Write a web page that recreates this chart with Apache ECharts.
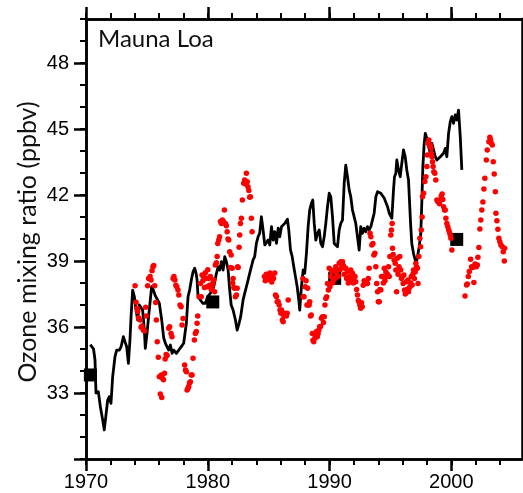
<!DOCTYPE html>
<html>
<head>
<meta charset="utf-8">
<script src="https://cdn.jsdelivr.net/npm/echarts@6.0.0/dist/echarts.min.js"></script>
<style>
  html, body { margin: 0; padding: 0; background: #ffffff; }
  #chart { width: 523px; height: 493px; }
</style>
</head>
<body>
<div id="chart"></div>
<script>
// Smoothed surface ozone record (black line)
const lineYears = [
  1970.35, 1970.62, 1970.74, 1970.82, 1971.01, 1971.18, 1971.37, 1971.50, 1971.64, 1971.78,
  1971.91, 1972.05, 1972.19, 1972.38, 1972.52, 1972.74, 1972.88, 1973.07, 1973.20, 1973.34,
  1973.48, 1973.61, 1973.70, 1973.83, 1973.97, 1974.11, 1974.24, 1974.38, 1974.52, 1974.65,
  1974.79, 1974.87, 1975.01, 1975.14, 1975.28, 1975.39, 1975.53, 1975.67, 1975.83, 1976.02,
  1976.22, 1976.38, 1976.52, 1976.66, 1976.79, 1976.93, 1977.07, 1977.20, 1977.42, 1977.61,
  1977.81, 1978.02, 1978.16, 1978.24, 1978.38, 1978.51, 1978.65, 1978.79, 1978.92, 1979.04,
  1979.12, 1979.20, 1979.39, 1979.58, 1979.80, 1979.99, 1980.21, 1980.49, 1980.71, 1980.85,
  1980.98, 1981.12, 1981.26, 1981.39, 1981.53, 1981.67, 1981.80, 1981.92, 1982.08, 1982.27,
  1982.41, 1982.57, 1982.70, 1982.90, 1983.03, 1983.17, 1983.31, 1983.44, 1983.58, 1983.72,
  1983.85, 1983.99, 1984.13, 1984.26, 1984.40, 1984.54, 1984.68, 1984.82, 1984.95, 1985.09,
  1985.23, 1985.37, 1985.50, 1985.64, 1985.78, 1985.91, 1986.05, 1986.19, 1986.32, 1986.46,
  1986.54, 1986.65, 1986.79, 1986.93, 1987.06, 1987.20, 1987.34, 1987.47, 1987.55, 1987.69,
  1987.83, 1987.96, 1988.10, 1988.24, 1988.37, 1988.51, 1988.62, 1988.74, 1988.87, 1989.01,
  1989.15, 1989.28, 1989.42, 1989.56, 1989.69, 1989.83, 1989.97, 1990.10, 1990.24, 1990.38,
  1990.51, 1990.65, 1990.79, 1990.92, 1991.06, 1991.20, 1991.33, 1991.47, 1991.61, 1991.74,
  1991.88, 1992.02, 1992.15, 1992.29, 1992.43, 1992.56, 1992.70, 1992.84, 1992.97, 1993.11,
  1993.25, 1993.39, 1993.52, 1993.66, 1993.80, 1993.94, 1994.08, 1994.21, 1994.35, 1994.49,
  1994.62, 1994.76, 1994.90, 1995.00, 1995.11, 1995.25, 1995.33, 1995.44, 1995.52, 1995.66,
  1995.80, 1995.93, 1996.07, 1996.21, 1996.34, 1996.48, 1996.56, 1996.65, 1996.75, 1996.89,
  1997.03, 1997.11, 1997.22, 1997.36, 1997.49, 1997.58, 1997.66, 1997.77, 1997.86, 1997.99,
  1998.13, 1998.27, 1998.40, 1998.54, 1998.68, 1998.81, 1998.95, 1999.09, 1999.22, 1999.36,
  1999.50, 1999.63, 1999.77, 1999.91, 2000.04, 2000.18, 2000.32, 2000.45, 2000.59, 2000.73,
  2000.86
];
const lineOzone = [
  35.2, 35.0, 34.5, 33.0, 33.06, 32.38, 31.77, 31.32, 31.4, 32.68,
  32.83, 32.53, 33.74, 34.65, 34.95, 34.95, 35.1, 35.56, 35.33, 35.1,
  34.35, 35.41, 36.47, 37.68, 37.38, 36.77, 36.32, 37.0, 37.08, 36.77,
  35.86, 35.03, 35.71, 36.47, 37.23, 37.83, 37.68, 37.45, 37.38, 37.08,
  36.3, 35.5, 35.26, 35.1, 34.95, 35.18, 34.8, 34.95, 34.8, 34.95,
  35.1, 35.26, 35.18, 36.17, 37.38, 37.68, 38.14, 38.51, 38.67, 38.44,
  38.14, 37.38, 37.23, 37.08, 37.08, 37.38, 37.53, 37.83, 38.44, 38.74,
  38.59, 38.97, 38.59, 39.2, 38.97, 38.59, 37.68, 37.0, 36.77, 36.32,
  35.86, 36.17, 36.47, 37.23, 37.53, 37.83, 38.14, 38.44, 38.74, 39.05,
  39.2, 39.8, 40.1, 40.26, 41.01, 40.41, 39.73, 39.8, 39.95, 39.73,
  40.56, 39.95, 40.33, 39.8, 40.49, 40.1, 40.56, 40.64, 40.71, 40.79,
  40.9, 40.41, 39.5, 39.2, 38.74, 38.29, 37.83, 37.23, 36.77, 37.83,
  38.59, 38.44, 39.35, 40.56, 41.32, 41.62, 41.77, 40.71, 39.95, 40.26,
  40.41, 39.8, 39.65, 40.1, 40.71, 41.47, 42.08, 41.92, 41.01, 39.8,
  39.73, 39.65, 40.41, 40.71, 40.86, 42.53, 43.36, 42.83, 42.23, 41.92,
  41.32, 41.24, 40.71, 40.1, 39.5, 40.56, 40.26, 40.49, 40.33, 40.56,
  40.41, 40.56, 40.86, 41.17, 41.92, 42.15, 42.15, 42.08, 42.0, 41.85,
  41.77, 41.47, 41.17, 41.1, 40.94, 42.23, 42.83, 42.98, 43.59, 43.14,
  42.83, 43.44, 44.05, 43.74, 43.14, 42.68, 41.77, 40.71, 39.8, 39.35,
  39.05, 38.9, 39.2, 39.65, 40.26, 41.77, 43.29, 44.35, 44.8, 44.58,
  44.2, 43.9, 44.35, 44.05, 43.74, 43.59, 43.67, 43.74, 43.82, 43.9,
  44.12, 43.74, 44.8, 45.33, 45.56, 45.26, 45.64, 45.41, 45.86, 44.65,
  43.14
];

// Monthly ozone values (red dots)
const dotYears = [
  1974.03, 1974.11, 1974.19, 1974.24, 1974.32, 1974.44, 1974.52, 1974.60, 1974.70, 1974.79,
  1974.90, 1974.95, 1975.06, 1975.14, 1975.26, 1975.34, 1975.42, 1975.50, 1975.56, 1975.64,
  1975.72, 1975.78, 1975.85, 1975.94, 1976.02, 1976.10, 1976.18, 1976.22, 1976.28, 1976.36,
  1976.45, 1976.50, 1976.58, 1976.66, 1976.79, 1976.87, 1976.98, 1977.06, 1977.15, 1977.22,
  1977.30, 1977.38, 1977.45, 1977.55, 1977.62, 1977.72, 1977.81, 1977.89, 1977.97, 1978.10,
  1978.17, 1978.24, 1978.30, 1978.37, 1978.43, 1978.50, 1978.57, 1978.63, 1978.71, 1978.79,
  1978.90, 1978.98, 1979.06, 1979.12, 1979.17, 1979.29, 1979.39, 1979.46, 1979.53, 1979.60,
  1979.66, 1979.73, 1979.80, 1979.87, 1979.94, 1980.00, 1980.07, 1980.14, 1980.21, 1980.28,
  1980.35, 1980.42, 1980.49, 1980.56, 1980.62, 1980.71, 1980.77, 1980.82, 1980.90, 1980.97,
  1981.04, 1981.12, 1981.20, 1981.28, 1981.36, 1981.45, 1981.52, 1981.59, 1981.66, 1981.72,
  1981.80, 1981.86, 1981.92, 1982.00, 1982.04, 1982.08, 1982.14, 1982.19, 1982.27, 1982.35,
  1982.41, 1982.46, 1982.49, 1982.57, 1982.62, 1982.68, 1982.76, 1982.84, 1982.95, 1983.03,
  1983.10, 1983.17, 1983.24, 1983.30, 1983.37, 1983.44, 1983.50, 1983.58, 1983.64,
  1984.65, 1984.72, 1984.80, 1984.88, 1984.95, 1985.02, 1985.10, 1985.18, 1985.25, 1985.32,
  1985.40, 1985.50, 1985.56, 1985.64, 1985.70, 1985.78, 1985.86, 1985.93, 1986.00, 1986.05,
  1986.12, 1986.19, 1986.25, 1986.32, 1986.38, 1986.45, 1986.52, 1986.60,
  1987.81, 1987.83, 1987.90, 1988.00, 1988.07, 1988.14, 1988.20, 1988.27, 1988.32, 1988.37,
  1988.44, 1988.49, 1988.58, 1988.64, 1988.70, 1988.74, 1988.80, 1988.85, 1988.92, 1988.99,
  1989.06, 1989.12, 1989.19, 1989.26, 1989.33, 1989.42, 1989.50, 1989.56, 1989.62, 1989.69,
  1989.76, 1989.83, 1989.90, 1989.97, 1990.03, 1990.10, 1990.17, 1990.24, 1990.30, 1990.36,
  1990.44, 1990.51, 1990.58, 1990.65, 1990.72, 1990.79, 1990.86, 1990.92, 1991.00, 1991.06,
  1991.13, 1991.20, 1991.27, 1991.33, 1991.40, 1991.47, 1991.54, 1991.61, 1991.67, 1991.74,
  1991.81, 1991.88, 1991.95, 1992.02, 1992.09, 1992.15, 1992.22, 1992.29, 1992.36, 1992.42,
  1992.48, 1992.55, 1992.62, 1992.68, 1992.76, 1992.84, 1992.90, 1992.96, 1993.04, 1993.11,
  1993.18, 1993.25, 1993.32, 1993.39, 1993.47, 1993.56, 1993.64, 1993.72, 1993.80, 1993.87,
  1993.94, 1994.00, 1994.08, 1994.14, 1994.21, 1994.27, 1994.35, 1994.42, 1994.49, 1994.55,
  1994.62, 1994.68, 1994.76, 1994.84, 1994.90, 1994.95, 1995.03, 1995.08, 1995.14, 1995.17,
  1995.22, 1995.30, 1995.39, 1995.44, 1995.50, 1995.56, 1995.62, 1995.70, 1995.76, 1995.84,
  1995.90, 1995.97, 1996.04, 1996.10, 1996.16, 1996.22, 1996.30, 1996.37, 1996.44, 1996.48,
  1996.52, 1996.60, 1996.66, 1996.71, 1996.78, 1996.84, 1996.89, 1996.96, 1997.03, 1997.08,
  1997.14, 1997.21, 1997.26, 1997.33, 1997.41, 1997.48, 1997.53, 1997.60, 1997.63, 1997.72,
  1997.82, 1997.91, 1997.99, 1998.03, 1998.09, 1998.15, 1998.22, 1998.27, 1998.32, 1998.36,
  1998.40, 1998.45, 1998.50, 1998.56, 1998.64, 1998.72, 1998.81, 1998.88, 1998.95, 1999.02,
  1999.09, 1999.17, 1999.24, 1999.30, 1999.36, 1999.44, 1999.50, 1999.55, 1999.63, 1999.71,
  1999.78, 1999.85, 1999.91, 1999.96, 2000.04,
  2001.12, 2001.25, 2001.31, 2001.39, 2001.47, 2001.58, 2001.66, 2001.75, 2001.83, 2001.85,
  2001.94, 2002.05, 2002.13, 2002.18, 2002.26, 2002.34, 2002.42, 2002.50, 2002.59, 2002.67,
  2002.75, 2002.87, 2002.95, 2003.08, 2003.16, 2003.22, 2003.28, 2003.36, 2003.44, 2003.52,
  2003.61, 2003.66, 2003.74, 2003.82, 2003.90, 2003.98, 2004.07, 2004.18, 2004.26, 2004.35,
  2004.37
];
const dotOzone = [
  37.88, 37.12, 36.85, 36.70, 36.42, 36.32, 35.99, 36.05, 35.86, 35.82,
  36.90, 36.50, 37.88, 38.21, 38.29, 38.14, 38.56, 38.74, 38.80, 37.88,
  37.11, 36.32, 35.33, 34.62, 33.74, 32.95, 33.82, 32.80, 33.67, 33.60,
  33.90, 34.55, 34.75, 34.70, 35.94, 36.01, 35.71, 35.56, 38.21, 38.29,
  38.14, 37.90, 37.83, 37.68, 37.45, 37.00, 36.92, 36.09, 36.39, 34.27,
  34.05, 33.97, 33.14, 33.21, 33.29, 33.45, 33.51, 33.82, 33.82, 34.58,
  35.41, 35.71, 35.79, 36.17, 36.50, 37.38, 37.98, 37.38, 38.36, 38.10,
  38.29, 37.80, 38.47, 38.20, 37.83, 38.60, 38.21, 37.90, 38.29, 37.70,
  37.83, 38.00, 38.14, 37.60, 38.82, 38.92, 39.20, 39.80, 39.95, 40.10,
  40.79, 40.70, 40.86, 40.80, 41.32, 40.71, 40.60, 40.33, 40.00, 39.95,
  39.42, 38.70, 39.27, 38.67, 38.00, 38.21, 37.80, 37.76, 37.38, 37.45,
  37.76, 38.74, 38.71, 39.62, 40.18, 40.71, 40.94, 41.77, 42.53, 42.68,
  42.50, 42.99, 42.60, 42.38, 42.20, 41.90, 41.92, 40.94, 40.33,
  38.30, 38.10, 38.40, 38.20, 38.35, 38.15, 38.45, 38.25, 38.05, 38.30,
  38.20, 38.45, 37.45, 37.38, 37.15, 37.15, 37.00, 36.77, 36.62, 36.77,
  36.32, 36.24, 36.50, 36.62, 36.55, 36.50, 36.62, 37.23,
  38.21, 37.38, 37.38, 37.83, 38.10, 37.00, 37.76, 37.00, 37.00, 37.15,
  36.50, 36.55, 35.71, 35.40, 35.33, 35.71, 35.50, 35.64, 35.79, 35.56,
  35.70, 35.86, 36.01, 36.02, 36.40, 36.47, 36.20, 36.47, 37.00, 37.30,
  37.38, 37.98, 37.68, 38.67, 37.83, 38.29, 38.52, 38.00, 38.10, 38.59,
  38.20, 38.74, 38.40, 38.59, 38.30, 38.90, 38.60, 38.97, 38.70, 38.97,
  38.80, 38.40, 38.67, 38.67, 38.20, 38.52, 38.00, 38.29, 38.06, 38.59,
  38.20, 38.44, 38.00, 38.06, 38.30, 38.06, 37.70, 37.45, 37.20, 37.15,
  37.00, 36.85, 37.10, 36.92, 37.90, 38.10, 38.02, 37.98, 38.00, 37.98,
  38.20, 38.67, 40.26, 40.10, 39.73, 39.80, 39.27, 39.35, 38.74, 37.98,
  37.60, 37.15, 37.15, 37.70, 37.68, 38.29, 38.29, 38.00, 38.67, 38.10,
  38.50, 38.29, 38.40, 38.74, 38.29, 39.20, 40.18, 40.41, 40.71, 39.58,
  39.30, 39.05, 38.90, 38.59, 37.60, 39.12, 38.40, 38.74, 39.20, 38.59,
  38.20, 38.29, 37.98, 38.36, 37.68, 37.50, 38.06, 37.70, 38.14, 37.60,
  37.76, 37.83, 38.00, 38.29, 37.91, 38.40, 38.59, 38.20, 38.50, 38.90,
  38.74, 38.67, 37.98, 39.20, 40.03, 39.65, 40.41, 41.00, 41.92, 42.08,
  42.61, 42.83, 43.29, 43.82, 44.35, 44.50, 44.20, 44.27, 44.12, 43.90,
  43.74, 43.51, 43.29, 43.06, 42.99, 42.68, 41.77, 41.70, 41.70, 41.60,
  41.77, 41.95, 42.05, 41.80, 41.47, 41.32, 41.32, 40.94, 40.71, 40.56,
  40.41, 40.30, 40.18, 40.03, 39.50,
  37.41, 37.91, 37.95, 38.29, 38.52, 39.08, 38.74, 38.70, 38.74, 38.02,
  38.86, 38.74, 38.82, 39.17, 39.61, 40.45, 40.86, 41.32, 41.68, 42.27,
  42.76, 43.59, 44.05, 44.42, 44.62, 44.50, 44.35, 44.27, 43.51, 42.95,
  42.15, 41.17, 40.83, 40.44, 40.03, 39.88, 39.73, 39.65, 39.42, 39.00,
  39.58
];

// Decadal reference values (black squares)
const boxYears = [1970.36, 1980.41, 1990.42, 2000.44];
const boxOzone = [33.82, 37.14, 38.21, 39.98];

// Axis ranges and tick labels
const yearMin = 1970, yearMax = 2005.8;
const ozoneMin = 30, ozoneMax = 50;
const yearLabels = [1970, 1980, 1990, 2000];
const ozoneLabels = [33, 36, 39, 42, 45, 48];
const ozoneMajorTicks = [30, 33, 36, 39, 42, 45, 48];

const minorYearTicks = [];
for (let y = 1970; y <= 2004; y += 2) minorYearTicks.push(y);
const minorOzoneTicks = [];
for (let v = 30; v <= 50; v += 1) minorOzoneTicks.push(v);

const zip = (xs, ys) => xs.map((x, i) => [x, ys[i]]);

const AXIS = '#000000';
const LABEL_FONT = '"Liberation Sans", Arial, Helvetica, sans-serif';
const TITLE_FONT = 'Lato, "Open Sans", sans-serif';

const plotRect = { left: 86, top: 19, width: 436, height: 440 };

function xAxisDef(grid, pos, ticks, tickLen, tickWidth, labels) {
  return {
    type: 'value', gridIndex: grid, position: pos,
    min: yearMin, max: yearMax,
    axisLine: { show: true, onZero: false, lineStyle: { color: AXIS, width: 2.5 } },
    axisTick: { show: true, customValues: ticks, length: tickLen, inside: false,
                lineStyle: { color: AXIS, width: tickWidth } },
    axisLabel: labels ? {
      show: true, customValues: labels, margin: 13,
      color: '#000', fontSize: 20, fontFamily: LABEL_FONT,
      formatter: v => String(Math.round(v))
    } : { show: false },
    splitLine: { show: false }
  };
}

function yAxisDef(grid, pos, ticks, tickLen, tickWidth, labels) {
  return {
    type: 'value', gridIndex: grid, position: pos,
    min: ozoneMin, max: ozoneMax,
    axisLine: { show: true, onZero: false, lineStyle: { color: AXIS, width: 2.5 } },
    axisTick: ticks ? { show: true, customValues: ticks, length: tickLen, inside: false,
                lineStyle: { color: AXIS, width: tickWidth } } : { show: false },
    axisLabel: labels ? {
      show: true, customValues: labels, margin: 17,
      color: '#000', fontSize: 20, fontFamily: LABEL_FONT,
      formatter: v => String(Math.round(v))
    } : { show: false },
    splitLine: { show: false }
  };
}

const chart = echarts.init(document.getElementById('chart'), null, { renderer: 'canvas' });

chart.setOption({
  animation: false,
  backgroundColor: '#ffffff',
  grid: [
    Object.assign({}, plotRect),
    Object.assign({}, plotRect)
  ],
  xAxis: [
    xAxisDef(0, 'bottom', minorYearTicks, 6, 2, null),
    xAxisDef(0, 'top', minorYearTicks, 6, 2, null),
    xAxisDef(1, 'bottom', yearLabels, 12, 2.5, yearLabels),
    xAxisDef(1, 'top', yearLabels, 12, 2.5, null)
  ],
  yAxis: [
    yAxisDef(0, 'left', minorOzoneTicks, 6, 2, null),
    yAxisDef(0, 'right', null, 0, 0, null),
    yAxisDef(1, 'left', ozoneMajorTicks, 12, 2.5, ozoneLabels)
  ],
  graphic: [
    {
      type: 'text', left: 98, top: 27,
      style: { text: 'Mauna Loa', fill: '#111', font: '24px ' + TITLE_FONT }
    },
    {
      type: 'text', x: 28, y: 242, rotation: Math.PI / 2,
      style: { text: 'Ozone mixing ratio (ppbv)', fill: '#111',
               font: '25px ' + TITLE_FONT, align: 'center', verticalAlign: 'middle' }
    }
  ],
  series: [
    {
      type: 'scatter', name: 'decadal', xAxisIndex: 0, yAxisIndex: 0,
      data: zip(boxYears, boxOzone),
      symbol: 'rect', symbolSize: 13,
      itemStyle: { color: '#000', opacity: 1 }, z: 2
    },
    {
      type: 'line', name: 'smoothed', xAxisIndex: 0, yAxisIndex: 0,
      data: zip(lineYears, lineOzone),
      showSymbol: false, symbol: 'none',
      lineStyle: { color: '#000', width: 2.8, join: 'round' }, z: 3
    },
    {
      type: 'scatter', name: 'monthly', xAxisIndex: 0, yAxisIndex: 0,
      data: zip(dotYears, dotOzone),
      symbol: 'circle', symbolSize: 5.5,
      itemStyle: { color: '#ff0000', opacity: 1 }, z: 4
    }
  ]
});
</script>
</body>
</html>
